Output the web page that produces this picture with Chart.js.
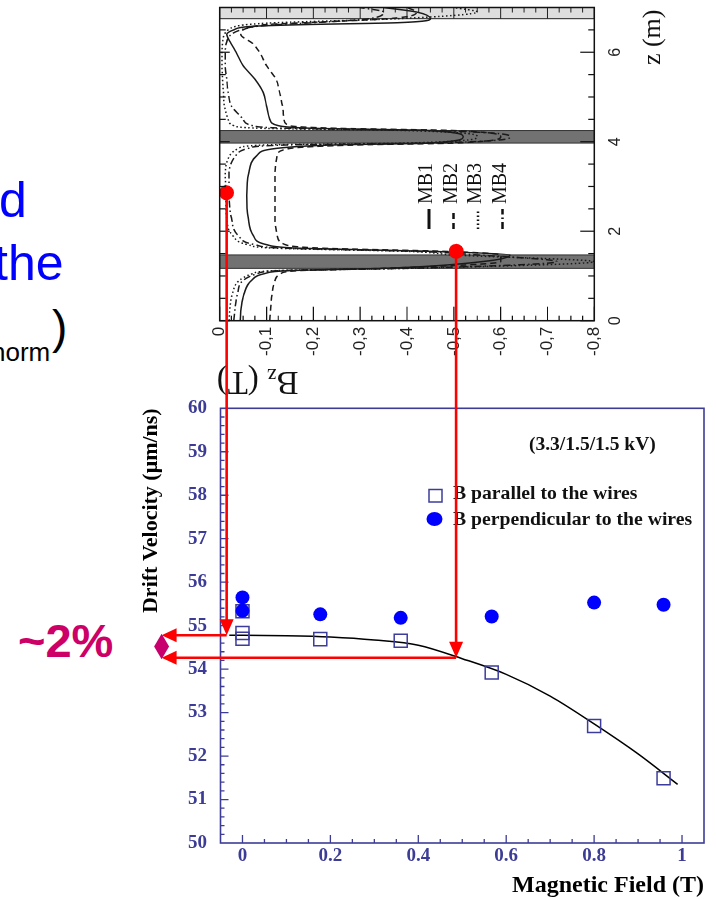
<!DOCTYPE html>
<html>
<head>
<meta charset="utf-8">
<script src="https://cdn.jsdelivr.net/npm/chart.js@4.4.1/dist/chart.umd.min.js"></script>
<style>
  html, body { margin: 0; padding: 0; background: #fff; }
  body { width: 716px; height: 900px; position: relative; overflow: hidden; }
  #notes { position: absolute; left: 0; top: 0; }
  #bzWrap { position: absolute; left: 200px; top: 400px; width: 400px; height: 500px;
            transform-origin: 0 0; transform: rotate(-90deg); }
  #vdWrap { position: absolute; left: 0; top: 0; width: 716px; height: 900px; pointer-events: none; }
</style>
</head>
<body>
<svg id="notes" width="716" height="900">
  <text x="-1" y="217" font-family="Liberation Sans, Arial" font-size="50" fill="#0000ff">d</text>
  <text x="-6" y="280" font-family="Liberation Sans, Arial" font-size="50" fill="#0000ff">the</text>
  <text x="-9" y="361" font-family="Liberation Sans, Arial" font-size="26" fill="#000">norm</text>
  <text x="52" y="343" font-family="Liberation Sans, Arial" font-size="46" fill="#000">)</text>
  <text x="18" y="657" font-family="Liberation Sans, Arial" font-size="47" font-weight="bold" fill="#cc0066">~2%</text>
</svg>
<div id="bzWrap"><canvas id="bz" width="400" height="500"></canvas></div>
<div id="vdWrap"><canvas id="vd" width="716" height="900"></canvas></div>
<script>
// ─── Upper panel: Bz along z for the four stations ───
const zGrid = [0, 0.3, 0.6, 0.9, 1.05, 1.12, 1.17, 1.32, 1.47, 1.55, 1.62, 1.7, 1.9,
               2.3, 2.8, 3.3, 3.7, 3.85, 3.93, 3.97, 4.11, 4.25, 4.3, 4.36, 4.5, 4.8,
               5.1, 5.4, 5.7, 6.0, 6.2, 6.4, 6.5, 6.58, 6.62, 6.66, 6.75, 6.9, 7.0];
const mb1Bz = [-0.044, -0.046, -0.052, -0.068, -0.095, -0.15, -0.35, -0.56, -0.62, -0.45, -0.17, -0.10, -0.072,
               -0.061, -0.058, -0.062, -0.08, -0.12, -0.25, -0.45, -0.52, -0.45, -0.2, -0.125, -0.107, -0.10,
               -0.093, -0.075, -0.05, -0.035, -0.024, -0.015, -0.03, -0.07, -0.19, -0.38, -0.45, -0.42, -0.35];
const mb2Bz = [-0.107, -0.109, -0.112, -0.118, -0.13, -0.17, -0.35, -0.6, -0.6, -0.48, -0.22, -0.14, -0.123,
               -0.118, -0.118, -0.118, -0.123, -0.15, -0.3, -0.5, -0.6, -0.5, -0.25, -0.148, -0.137, -0.134,
               -0.128, -0.12, -0.1, -0.085, -0.07, -0.045, -0.05, -0.075, -0.1, -0.18, -0.36, -0.42, -0.4];
const mb3Bz = [-0.02, -0.022, -0.027, -0.042, -0.07, -0.12, -0.4, -0.8, -0.5, -0.4, -0.12, -0.06, -0.028,
               -0.015, -0.013, -0.012, -0.022, -0.04, -0.1, -0.4, -0.55, -0.4, -0.09, -0.03, -0.018, -0.01,
               -0.008, -0.006, -0.005, -0.005, -0.006, -0.01, -0.018, -0.035, -0.06, -0.12, -0.38, -0.55, -0.5];
const mb4Bz = [-0.03, -0.033, -0.038, -0.05, -0.08, -0.13, -0.4, -0.72, -0.55, -0.42, -0.14, -0.075, -0.04,
               -0.025, -0.02, -0.02, -0.035, -0.06, -0.15, -0.45, -0.62, -0.45, -0.15, -0.07, -0.05, -0.025,
               -0.018, -0.015, -0.012, -0.012, -0.014, -0.025, -0.045, -0.08, -0.13, -0.2, -0.32, -0.35, -0.3];
const zTicks = [0, 2, 4, 6];
const bzTicks = [0, -0.1, -0.2, -0.3, -0.4, -0.5, -0.6, -0.7, -0.8];
const yokeBands = [[1.17, 1.47], [3.97, 4.25]];
const endBand = [6.75, 7.0];

// ─── Lower panel: drift velocity vs magnetic field ───
const fieldPar = [0, 0, 0, 0.177, 0.36, 0.567, 0.8, 0.958];
const vdPar = [55.33, 54.83, 54.70, 54.69, 54.65, 53.92, 52.69, 51.49];
const fieldPerp = [0, 0, 0.177, 0.36, 0.567, 0.8, 0.958];
const vdPerp = [55.65, 55.34, 55.26, 55.18, 55.21, 55.53, 55.48];
const fitField = [-0.03, 0, 0.1, 0.2, 0.3, 0.4, 0.5, 0.6, 0.7, 0.8, 0.9, 0.99];
const fitVd = [54.78, 54.78, 54.77, 54.74, 54.67, 54.55, 54.24, 53.88, 53.38, 52.74, 52.05, 51.35];
const fieldTicks = [0, 0.2, 0.4, 0.6, 0.8, 1];
const vdTicks = [50, 51, 52, 53, 54, 55, 56, 57, 58, 59, 60];

// ─── Read-off guides (red arrows) ───
const pickZ = [2.86, 1.55];
const pickBz = [-0.0145, -0.505];
const pickField = [-0.036, 0.486];
const pickVd = [54.78, 54.26];
const spreadField = -0.184;

const TOP_L = 200, TOP_T = 400;   // where the rotated upper canvas sits
const AXIS_BLUE = '#3c3c96';
const SERIF = '"Liberation Serif", "Times New Roman", serif';
const SANS = '"Liberation Sans", Arial, sans-serif';

const stations = [
  { label: 'MB1', data: mb1Bz, dash: [],             legendWidth: 3 },
  { label: 'MB2', data: mb2Bz, dash: [6, 4],         legendWidth: 2.5 },
  { label: 'MB3', data: mb3Bz, dash: [1.5, 2.5],     legendWidth: 2.5 },
  { label: 'MB4', data: mb4Bz, dash: [7, 3, 1.5, 3], legendWidth: 2.5 },
];

// ─── Upper panel decorations: yokes, frame, inward ticks, legend, titles ───
const bzDecor = {
  id: 'bzDecor',
  beforeDatasetsDraw(chart) {
    const { ctx, chartArea: a, scales: { x, y } } = chart;
    ctx.save();
    const s0 = x.getPixelForValue(endBand[0]), s1 = x.getPixelForValue(endBand[1]);
    ctx.fillStyle = '#dedede';
    ctx.fillRect(s0, a.top, s1 - s0, a.bottom - a.top);
    ctx.strokeStyle = '#222';
    ctx.lineWidth = 1;
    ctx.beginPath();
    ctx.moveTo(s0, a.top); ctx.lineTo(s0, a.bottom);
    for (let v = 0; v >= -0.8001; v -= 0.025) {
      const r = Math.round(v * 1000) / 1000;
      const py = y.getPixelForValue(r);
      const len = Math.abs(Math.round(r * 10) - r * 10) < 1e-6 ? s1 - s0 : 5;
      ctx.moveTo(a.right, py); ctx.lineTo(a.right - len, py);
    }
    ctx.stroke();
    ctx.fillStyle = '#727272';
    ctx.strokeStyle = '#333';
    yokeBands.forEach(([z0, z1]) => {
      const p0 = x.getPixelForValue(z0), p1 = x.getPixelForValue(z1);
      ctx.fillRect(p0, a.top, p1 - p0, a.bottom - a.top);
      ctx.strokeRect(p0, a.top, p1 - p0, a.bottom - a.top);
    });
    ctx.restore();
  },
  afterDatasetsDraw(chart) {
    const { ctx, chartArea: a, scales: { x, y } } = chart;
    ctx.save();
    ctx.strokeStyle = '#111';
    ctx.lineWidth = 1.2;
    ctx.beginPath();
    // z ticks on both long edges
    for (let v = 0; v <= 6.5001; v += 0.5) {
      const px = x.getPixelForValue(v);
      const major = zTicks.includes(v);
      ctx.moveTo(px, a.bottom); ctx.lineTo(px, a.bottom - (major ? 14 : 6));
      ctx.moveTo(px, a.top); ctx.lineTo(px, a.top + (major ? 10 : 6));
    }
    // Bz ticks along the axis edge
    for (let v = 0; v >= -0.8001; v -= 0.025) {
      const r = Math.round(v * 1000) / 1000;
      const py = y.getPixelForValue(r);
      const major = Math.abs(Math.round(r * 10) - r * 10) < 1e-6;
      ctx.moveTo(a.left, py); ctx.lineTo(a.left + (major ? 14 : 5), py);
    }
    ctx.stroke();
    ctx.lineWidth = 1.5;
    ctx.strokeRect(a.left, a.top, a.right - a.left, a.bottom - a.top);

    // legend
    ctx.fillStyle = '#111';
    ctx.font = '20px ' + SERIF;
    ctx.textBaseline = 'alphabetic';
    stations.forEach((s, i) => {
      const by = 232 + i * 24.5;
      ctx.beginPath();
      ctx.setLineDash(s.dash);
      ctx.lineWidth = s.legendWidth;
      ctx.moveTo(171, by - 3); ctx.lineTo(191, by - 3);
      ctx.stroke();
      ctx.setLineDash([]);
      ctx.fillText(s.label, 196, by);
    });

    // Bz (T) title, running along the Bz axis
    ctx.save();
    ctx.translate(28, a.top - 3);
    ctx.rotate(-Math.PI / 2);
    ctx.font = '33px ' + SERIF;
    const wB = ctx.measureText('B').width, wT = ctx.measureText(' (T)').width;
    ctx.font = '21px ' + SERIF;
    const wz = ctx.measureText('z').width;
    let u = -(wB + wz + wT);
    ctx.font = '33px ' + SERIF;
    ctx.fillText('B', u, 0); u += wB;
    ctx.font = '21px ' + SERIF;
    ctx.fillText('z', u, 3); u += wz;
    ctx.font = '33px ' + SERIF;
    ctx.fillText(' (T)', u, 0);
    ctx.restore();

    // z (m) title
    ctx.font = '26px ' + SERIF;
    ctx.textAlign = 'right';
    ctx.fillText('z (m)', a.right - 2, 460);
    ctx.restore();
  }
};

const bzChart = new Chart(document.getElementById('bz'), {
  type: 'line',
  data: {
    datasets: [
      ...stations.map(s => ({
        label: s.label,
        data: zGrid.map((z, i) => ({ x: z, y: s.data[i] })),
        borderColor: '#1a1a1a',
        borderWidth: 1.5,
        borderDash: s.dash,
        pointRadius: 0,
        cubicInterpolationMode: 'monotone',
        order: 1
      })),
      {
        label: 'picks',
        type: 'scatter',
        data: pickZ.map((z, i) => ({ x: z, y: pickBz[i] })),
        pointRadius: 7.5,
        backgroundColor: '#ff0000',
        borderWidth: 0,
        order: 0
      }
    ]
  },
  options: {
    responsive: false,
    animation: false,
    layout: { padding: { left: 0, top: 19.7, right: 7.4, bottom: 0 } },
    plugins: { legend: { display: false }, tooltip: { enabled: false } },
    scales: {
      x: {
        type: 'linear', min: 0, max: 7,
        afterFit: s => { s.height = 105.7; },
        afterBuildTicks: s => { s.ticks = zTicks.map(v => ({ value: v })); },
        grid: { display: false, drawTicks: false },
        border: { display: false },
        ticks: { padding: 12, maxRotation: 0, autoSkip: false, color: '#222',
                 font: { family: SANS, size: 16 } }
      },
      y: {
        type: 'linear', min: -0.8, max: 0,
        afterFit: s => { s.width = 79.3; },
        afterBuildTicks: s => { s.ticks = bzTicks.map(v => ({ value: v })); },
        grid: { display: false, drawTicks: false },
        border: { display: false },
        ticks: { padding: 6, autoSkip: false, color: '#222',
                 font: { family: SANS, size: 17 },
                 callback: v => v === 0 ? '0' : v.toFixed(1).replace('.', ',') }
      }
    }
  },
  plugins: [bzDecor]
});

// ─── Lower panel decorations: frame, inward ticks, legend, red read-off arrows ───
const vdDecor = {
  id: 'vdDecor',
  beforeDatasetsDraw(chart) {
    const { ctx, chartArea: a, scales: { x, y } } = chart;
    ctx.save();
    ctx.strokeStyle = AXIS_BLUE;
    ctx.lineWidth = 1.3;
    ctx.beginPath();
    for (let v = -0.05; v <= 1.0501; v += 0.05) {
      const r = Math.round(v * 100) / 100;
      if (r <= -0.05 || r >= 1.05) continue;
      const px = x.getPixelForValue(r);
      ctx.moveTo(px, a.bottom); ctx.lineTo(px, a.bottom - (fieldTicks.includes(r) ? 8 : 4));
    }
    for (let v = 50; v <= 60.001; v += 0.2) {
      const r = Math.round(v * 10) / 10;
      if (r <= 50 || r >= 60) continue;
      const py = y.getPixelForValue(r);
      ctx.moveTo(a.left, py); ctx.lineTo(a.left + (vdTicks.includes(r) ? 8 : 4), py);
    }
    ctx.stroke();
    ctx.lineWidth = 1.6;
    ctx.strokeRect(a.left, a.top, a.right - a.left, a.bottom - a.top);
    ctx.restore();
  },
  afterDraw(chart) {
    const { ctx, scales: { x, y } } = chart;
    ctx.save();
    ctx.fillStyle = '#111';
    ctx.textBaseline = 'alphabetic';
    ctx.font = 'bold 19.5px ' + SERIF;
    ctx.fillText('(3.3/1.5/1.5 kV)', 529, 450);

    // legend
    const par = chart.data.datasets[1], perp = chart.data.datasets[0];
    ctx.font = 'bold 19.7px ' + SERIF;
    ctx.fillText(par.label, 453, 499);
    ctx.fillText(perp.label, 453, 525);
    ctx.strokeStyle = par.borderColor;
    ctx.lineWidth = par.borderWidth;
    ctx.strokeRect(429, 489.5, 13, 12.5);
    ctx.fillStyle = perp.backgroundColor;
    ctx.beginPath();
    ctx.ellipse(434.5, 519, 8, 7, 0, 0, Math.PI * 2);
    ctx.fill();

    // red read-off arrows
    const tipX = x.getPixelForValue(spreadField);
    const levels = [];
    ctx.strokeStyle = ctx.fillStyle = '#ff0000';
    ctx.lineWidth = 2.6;
    pickField.forEach((f, i) => {
      const px = x.getPixelForValue(f);
      const top = TOP_T - bzChart.scales.x.getPixelForValue(pickZ[i]);
      const py = y.getPixelForValue(pickVd[i]);
      levels.push(py);
      ctx.beginPath();
      ctx.moveTo(px, top); ctx.lineTo(px, py - 12);
      ctx.moveTo(px, py); ctx.lineTo(tipX + 12, py);
      ctx.stroke();
      ctx.beginPath();
      ctx.moveTo(px, py); ctx.lineTo(px - 7, py - 16); ctx.lineTo(px + 7, py - 16); ctx.closePath();
      ctx.moveTo(tipX, py); ctx.lineTo(tipX + 15, py - 7); ctx.lineTo(tipX + 15, py + 7); ctx.closePath();
      ctx.fill();
    });

    // spread marker between the two levels
    const mid = (levels[0] + levels[1]) / 2, half = (levels[1] - levels[0]) / 2 + 1.5;
    ctx.fillStyle = '#c8006e';
    ctx.beginPath();
    ctx.moveTo(tipX, mid - half); ctx.lineTo(tipX + 7.5, mid);
    ctx.lineTo(tipX, mid + half); ctx.lineTo(tipX - 7.5, mid);
    ctx.closePath();
    ctx.fill();
    ctx.restore();
  }
};

new Chart(document.getElementById('vd'), {
  type: 'scatter',
  data: {
    datasets: [
      {
        label: 'B perpendicular to the wires',
        data: fieldPerp.map((b, i) => ({ x: b, y: vdPerp[i] })),
        pointStyle: 'circle',
        pointRadius: 7,
        backgroundColor: '#0000ff',
        borderColor: '#0000ff',
        borderWidth: 0
      },
      {
        label: 'B parallel to the wires',
        data: fieldPar.map((b, i) => ({ x: b, y: vdPar[i] })),
        pointStyle: 'rect',
        pointRadius: 9.2,
        backgroundColor: 'rgba(0,0,0,0)',
        borderColor: '#3c3c9c',
        borderWidth: 1.5
      },
      {
        label: 'fit',
        data: fitField.map((b, i) => ({ x: b, y: fitVd[i] })),
        showLine: true,
        pointRadius: 0,
        borderColor: '#000',
        borderWidth: 1.5,
        cubicInterpolationMode: 'monotone'
      }
    ]
  },
  options: {
    responsive: false,
    animation: false,
    layout: { padding: { left: 137.8, top: 408.3, right: 12, bottom: 0 } },
    plugins: { legend: { display: false }, tooltip: { enabled: false } },
    scales: {
      x: {
        type: 'linear', min: -0.05, max: 1.05,
        afterFit: s => { s.height = 57; },
        afterBuildTicks: s => { s.ticks = fieldTicks.map(v => ({ value: v })); },
        grid: { display: false, drawTicks: false },
        border: { display: false },
        ticks: { padding: 2, maxRotation: 0, autoSkip: false, color: AXIS_BLUE,
                 font: { family: SERIF, size: 19, weight: 'bold' }, callback: v => String(v) },
        title: { display: true, text: 'Magnetic Field (T)', align: 'end', color: '#000',
                 font: { family: SERIF, size: 24, weight: 'bold' }, padding: { top: 0, bottom: 0 } }
      },
      y: {
        type: 'linear', min: 50, max: 60,
        afterFit: s => { s.width = 82.7; },
        afterBuildTicks: s => { s.ticks = vdTicks.map(v => ({ value: v })); },
        grid: { display: false, drawTicks: false },
        border: { display: false },
        ticks: { padding: 13.5, autoSkip: false, color: AXIS_BLUE,
                 font: { family: SERIF, size: 19, weight: 'bold' } },
        title: { display: true, text: 'Drift Velocity (μm/ns)', align: 'end', color: '#000',
                 font: { family: SERIF, size: 22, weight: 'bold' }, padding: { top: 0, bottom: 0 } }
      }
    }
  },
  plugins: [vdDecor]
});
</script>
</body>
</html>
